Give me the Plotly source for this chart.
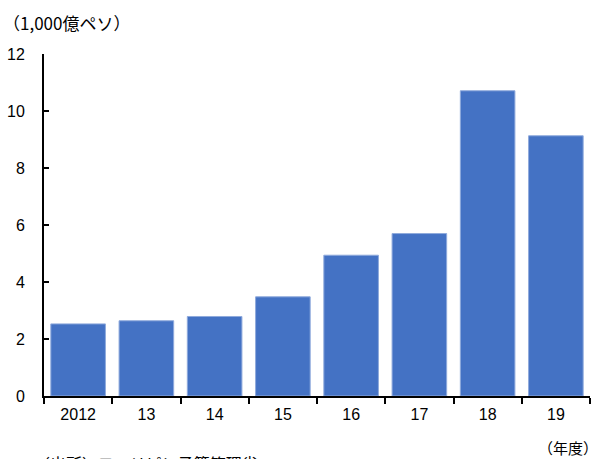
import plotly.graph_objects as go

categories = ["2012", "13", "14", "15", "16", "17", "18", "19"]
values = [2.53, 2.64, 2.79, 3.48, 4.94, 5.70, 10.71, 9.13]
y_ticks = [0, 2, 4, 6, 8, 10, 12]

unit_label = "（1,000億ペソ）"
x_label = "（年度）"
source_text = "（出所）フィリピン予算管理省"

FONT = "Liberation Sans, Noto Sans CJK JP, sans-serif"
CJK = "Noto Sans CJK JP, sans-serif"

L, R, T, B = 44, 13, 54, 63
PW = 603 - L - R
PH = 459 - T - B

fig = go.Figure(
    go.Bar(
        x=categories,
        y=values,
        marker=dict(color="#4472C4", line=dict(color="#8FAADC", width=1)),
        width=0.8,
    )
)

fig.update_layout(
    width=603,
    height=459,
    margin=dict(l=L, r=R, t=T, b=B, autoexpand=False),
    paper_bgcolor="white",
    plot_bgcolor="white",
    showlegend=False,
    font=dict(family=FONT, size=16, color="#000000"),
    bargap=0.2,
)

fig.update_xaxes(
    type="category",
    automargin=False,
    showline=True,
    linecolor="black",
    linewidth=1.5,
    ticks="outside",
    ticklen=6,
    tickwidth=1.5,
    tickcolor="black",
    tickson="boundaries",
    showgrid=False,
    ticklabelstandoff=3,
    tickfont=dict(size=16),
)

fig.update_yaxes(
    range=[0, 12],
    automargin=False,
    tickvals=y_ticks,
    showline=True,
    linecolor="black",
    linewidth=2,
    ticks="inside",
    ticklen=5,
    tickwidth=1.5,
    tickcolor="black",
    showgrid=False,
    zeroline=False,
    ticklabelstandoff=14,
    tickfont=dict(size=16),
)

fig.add_annotation(
    text=unit_label, xref="paper", yref="paper",
    x=(1 - L) / PW, y=1 + 32 / PH, xanchor="left", yanchor="middle",
    showarrow=False, font=dict(family=CJK, size=17),
)
fig.add_annotation(
    text=x_label, xref="paper", yref="paper",
    x=(600 - L) / PW, y=-(447 - 396) / PH, xanchor="right", yanchor="middle",
    showarrow=False, font=dict(family=CJK, size=15),
)
fig.add_annotation(
    text=source_text, xref="paper", yref="paper",
    x=(32 - L) / PW, y=-(449 - 396) / PH, xanchor="left", yanchor="top",
    showarrow=False, font=dict(family=CJK, size=16),
)

fig.write_html("out.html")
